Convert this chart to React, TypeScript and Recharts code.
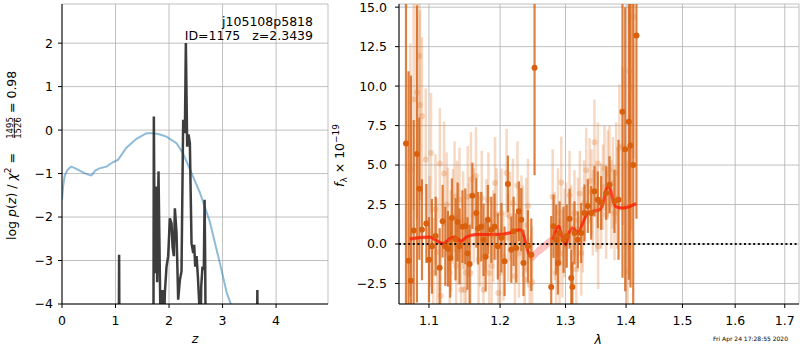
import React from 'react';
import {
  LineChart, Line, XAxis, YAxis, CartesianGrid, ComposedChart, Scatter, ErrorBar, Area, ReferenceLine,
} from 'recharts';

const FONT = 'DejaVu Sans, sans-serif';

// ---------- Left panel: log p(z) ----------
const zTicks = [0, 1, 2, 3, 4];
const logpTicks = [-4, -3, -2, -1, 0, 1, 2];

const priorZ = [0, 0.02, 0.05, 0.1, 0.17, 0.25, 0.33, 0.42, 0.5, 0.55, 0.62, 0.7, 0.83, 0.95, 1.05, 1.2, 1.39, 1.58, 1.7, 1.83, 1.95, 2.14, 2.26, 2.42, 2.58, 2.76, 2.95, 3.08, 3.14, 3.3];
const priorLogP = [-1.6, -1.3, -1.05, -0.92, -0.84, -0.88, -0.93, -0.99, -1.03, -1.04, -0.93, -0.88, -0.84, -0.74, -0.68, -0.41, -0.2, -0.07, -0.07, -0.1, -0.15, -0.3, -0.53, -0.99, -1.45, -2.1, -3.06, -3.75, -3.95, -4.5];

const pzZ = [0, 1.05, 1.06, 1.067, 1.074, 1.085, 1.7, 1.708, 1.716, 1.725, 1.747, 1.765, 1.778, 1.803, 1.828, 1.847, 1.878, 1.903, 1.921, 1.953, 1.984, 2.015, 2.046, 2.065, 2.09, 2.109, 2.14, 2.171, 2.202, 2.233, 2.264, 2.296, 2.314, 2.339, 2.364, 2.389, 2.42, 2.452, 2.47, 2.489, 2.514, 2.539, 2.564, 2.576, 2.59, 2.601, 2.625, 2.65, 2.664, 2.675, 2.69, 3.63, 3.642, 3.65, 3.658, 3.67, 4.97];
const pzLogP = [-9, -9, -5, -2.87, -5, -9, -9, -5, 0.31, -1.5, -3.29, -1.3, -3.5, -0.95, -3.3, -5, -3.68, -5, -3.75, -3.14, -2.9, -2.03, -2.14, -2.68, -2.9, -1.8, -2.37, -3.9, -3.45, -3.25, 0.24, -0.07, 2.0, -0.38, -0.1, -0.3, -2.6, -2.83, -2.64, -3.14, -2.9, -3.37, -3.98, -4.5, -4.6, -3.6, -3.14, -3.22, -1.6, -3, -6, -9, -5, -3.68, -5, -9, -9];

// ---------- Right panel: spectrum ----------
const lamTicks = [1.1, 1.2, 1.3, 1.4, 1.5, 1.6, 1.7];
const fluxTicks = [-2.5, 0, 2.5, 5, 7.5, 10, 12.5, 15];
const fluxDomain = [-3.8, 15.2];

const lightLam = [1.0752, 1.0796, 1.0839, 1.0871, 1.088, 1.0906, 1.0957, 1.101, 1.1028, 1.1058, 1.1088, 1.111, 1.1147, 1.116, 1.1205, 1.124, 1.1259, 1.1282, 1.13, 1.1327, 1.135, 1.1372, 1.1386, 1.1405, 1.1419, 1.1441, 1.147, 1.1488, 1.1511, 1.1534, 1.155, 1.1572, 1.158, 1.162, 1.165, 1.1688, 1.171, 1.1734, 1.1758, 1.18, 1.183, 1.184, 1.1877, 1.19, 1.1926, 1.195, 1.1974, 1.1999, 1.2022, 1.205, 1.2096, 1.212, 1.2146, 1.219, 1.222, 1.2258, 1.228, 1.2318, 1.234, 1.2368, 1.239, 1.2418, 1.2443, 1.248, 1.2798, 1.283, 1.2853, 1.288, 1.2906, 1.2933, 1.295, 1.2986, 1.301, 1.3065, 1.309, 1.3118, 1.3144, 1.3172, 1.32, 1.323, 1.3252, 1.3279, 1.33, 1.3334, 1.3389, 1.342, 1.3443, 1.3469, 1.35, 1.3524, 1.353, 1.358, 1.361, 1.3635, 1.3663, 1.369, 1.3719, 1.375, 1.3775, 1.3803, 1.3831, 1.385, 1.3886, 1.3943, 1.4002, 1.4027, 1.4057, 1.4085, 1.413];
const lightFlux = [4.7, 9.15, 9.6, 11.9, 8.8, 8.1, 5.35, 0.8, 5.77, -1.84, 2.2, -0.5, 5.1, -3.3, 4.46, 2.5, 1.54, -1.84, 0.2, 1.75, 3.0, -1.4, 2.07, 0.6, 2.8, -2.9, 1.5, -2.9, -1.8, 3.0, 0.9, -1.84, 4.08, 1.8, 4.3, -1.0, 0.3, 2.9, -2.9, 1.2, 2.8, -1.84, -1.4, 0.5, 3.87, 1.9, -3.1, -1.84, 1.97, -0.8, 4.5, 0.4, 1.75, 2.6, -2.05, 3.7, -0.6, 1.54, 0.8, -2.26, 1.2, 2.4, -2.58, -2.4, 3.0, 0.5, -1.84, 2.0, -1.2, 3.9, -0.6, 0.7, 1.2, 3.1, 1.0, -0.15, 1.97, -1.6, 1.5, 3.2, -0.57, 0.9, 2.6, 4.67, 4.0, 3.3, 1.97, 6.45, 2.2, 5.1, -0.15, 2.4, 3.6, 4.8, 1.86, 4.4, 4.7, 2.5, 3.87, 1.97, 4.5, 2.9, 6.1, 6.2, -0.15, -1.73, 10.95, 9.9, 14.4];
const lightErr = [8, 7, 8, 6, 6, 5, 4.5, 3.5, 3.8, 3.5, 3.5, 3.4, 3.5, 3.5, 3.3, 3.3, 3.3, 3.3, 3.2, 3.0, 3.5, 3.2, 3.2, 3.2, 3.3, 3.2, 3.1, 3.2, 3.2, 3.2, 3.0, 3.0, 3.0, 3.0, 3.1, 3.0, 3.0, 3.0, 3.0, 2.9, 3.0, 3.0, 2.9, 2.9, 2.9, 2.9, 3.0, 2.8, 2.8, 2.8, 2.8, 2.8, 2.8, 2.8, 2.7, 2.8, 2.8, 2.8, 2.9, 2.8, 3.0, 3.0, 3.0, 3.5, 3.0, 2.8, 3.0, 2.8, 2.8, 2.9, 2.8, 2.8, 2.7, 2.8, 2.7, 2.7, 2.7, 2.7, 2.7, 2.7, 2.7, 2.7, 2.7, 2.7, 2.7, 2.7, 2.7, 2.7, 2.7, 2.6, 2.7, 2.7, 2.7, 2.7, 2.8, 2.8, 2.8, 2.8, 2.9, 3.0, 3.2, 3.2, 4.0, 5, 6, 7, 8, 9, 9];

const darkLam = [1.0695, 1.0729, 1.076, 1.0796, 1.0839, 1.0871, 1.0906, 1.0965, 1.1, 1.104, 1.109, 1.1145, 1.1185, 1.1222, 1.1258, 1.129, 1.1313, 1.1364, 1.1392, 1.142, 1.146, 1.15, 1.153, 1.1561, 1.16, 1.1656, 1.168, 1.1727, 1.176, 1.179, 1.1822, 1.1872, 1.1919, 1.1967, 1.202, 1.2066, 1.2115, 1.2166, 1.22, 1.224, 1.2279, 1.2315, 1.2349, 1.2415, 1.2467, 1.2517, 1.2775, 1.2811, 1.2853, 1.288, 1.2906, 1.2969, 1.302, 1.3065, 1.3092, 1.311, 1.3144, 1.3197, 1.3252, 1.3306, 1.336, 1.3415, 1.3469, 1.3524, 1.358, 1.3663, 1.3719, 1.3803, 1.3871, 1.3939, 1.3985, 1.4047, 1.4076, 1.4123, 1.4179];
const darkFlux = [6.36, -1.06, -2.33, 0.85, 5.7, 3.5, 0.9, 1.3, -1.0, -0.15, 0.5, -1.5, 1.44, -0.15, -0.3, -0.9, 1.65, 0.3, 1.4, -0.15, 1.1, 1.12, -0.6, -1.27, 3.05, 1.97, 1.0, 1.1, 0.27, -0.8, 1.54, 0.9, 1.1, -0.15, 0.4, -1.1, 3.8, -0.36, 0.8, -0.25, 2.07, 1.54, -1.2, -0.15, -0.68, 11.16, -2.73, 1.12, 0.27, -1.2, 0.7, 0.27, 0.5, 1.6, -2.16, -2.73, 0.7, 0.27, 0.7, 1.97, 2.4, 1.97, 3.34, 2.8, 2.6, 3.23, 3.76, 2.7, 2.8, 8.37, 6.0, 7.74, 6.24, 5.0, 13.2];
const darkErr = [16, 12, 13, 7, 9.4, 4.5, 3.2, 2.5, 2.7, 3.0, 2.5, 2.5, 2.3, 2.5, 2.4, 2.5, 2.5, 2.6, 2.5, 2.4, 2.3, 2.4, 2.3, 2.5, 2.1, 2.2, 2.3, 2.2, 2.3, 2.2, 2.2, 2.1, 2.1, 2.1, 2.2, 2.2, 1.8, 2.1, 2.2, 2.2, 1.9, 2.0, 2.1, 2.3, 2.3, 6.8, 4.5, 2.0, 2.2, 2.0, 2.0, 2.1, 2.0, 1.9, 1.8, 1.6, 2.0, 1.8, 1.9, 1.8, 1.7, 1.7, 1.6, 1.8, 1.7, 1.7, 1.8, 2.0, 3.8, 10.5, 9, 10, 9, 12, 11.6];

const modelLam = [1.0743, 1.1009, 1.11, 1.119, 1.1282, 1.1351, 1.1444, 1.1514, 1.1656, 1.1944, 1.214, 1.2289, 1.233, 1.239, 1.2441, 1.2476, 1.256, 1.265, 1.274, 1.28, 1.2894, 1.2958, 1.3011, 1.3053, 1.3117, 1.3197, 1.3278, 1.336, 1.3442, 1.3553, 1.3607, 1.3663, 1.3719, 1.3774, 1.3832, 1.3943, 1.4174];
const modelFlux = [0.32, 0.44, 0.23, 0.02, 0.32, 0.44, 0.17, 0.44, 0.6, 0.6, 0.7, 0.9, 0.8, -0.04, -0.74, -0.8, -0.5, -0.2, 0.1, 0.27, 1.12, 0.27, -0.04, 0.7, 1.0, 0.7, 1.33, 1.97, 2.07, 2.18, 2.5, 3.45, 3.66, 2.8, 2.35, 2.28, 2.56];
const modelErr = [0.12, 0.12, 0.12, 0.12, 0.12, 0.12, 0.12, 0.12, 0.12, 0.12, 0.12, 0.12, 0.15, 0.2, 0.25, 0.3, 0.3, 0.3, 0.3, 0.2, 0.15, 0.2, 0.3, 0.2, 0.15, 0.15, 0.15, 0.12, 0.12, 0.12, 0.12, 0.12, 0.12, 0.12, 0.12, 0.12, 0.12];
const modelDrawn = [1, 1, 1, 1, 1, 1, 1, 1, 1, 1, 1, 1, 1, 1, 1, 1, 0, 0, 0, 1, 1, 1, 1, 1, 1, 1, 1, 1, 1, 1, 1, 1, 1, 1, 1, 1, 1];

const timestamp = 'Fri Apr 24 17:28:55 2020';
const objName = 'j105108p5818';
const objInfo = 'ID=1175   z=2.3439';

// ---------- Tables built from the arrays ----------
// error bars are cut at the plot frame (the picture clips them there)
const clipErr = (f: number, e: number) => [
  Math.max(0, Math.min(e, f - fluxDomain[0])),
  Math.max(0, Math.min(e, fluxDomain[1] - f)),
];
const priorData = priorZ.map((z, i) => ({ z, v: priorLogP[i] }));
const pzData = pzZ.map((z, i) => ({ z, v: pzLogP[i] }));
const lightData = lightLam.map((lam, i) => ({ lam, f: lightFlux[i], e: clipErr(lightFlux[i], lightErr[i]) }));
const darkData = darkLam.map((lam, i) => ({ lam, f: darkFlux[i], e: clipErr(darkFlux[i], darkErr[i]) }));
const modelData = modelLam.map((lam, i) => ({
  lam,
  f: modelDrawn[i] ? modelFlux[i] : null,
  band: [modelFlux[i] - modelErr[i], modelFlux[i] + modelErr[i]],
}));

const minus = (s: string) => s.replace('-', '\u2212');
const tickStyle = { fill: '#000', fontSize: 12.5, fontFamily: FONT };

const LeftLabels = () => (
  <g fontFamily={FONT} fill="#000">
    <text transform="translate(15.5,240) rotate(-90)" fontSize={12.5}>
      log <tspan fontStyle="italic">p</tspan>(<tspan fontStyle="italic">z</tspan>) / <tspan fontStyle="italic">χ</tspan>
      <tspan fontSize={9} dy={-5}>2</tspan>
      <tspan dy={5}> =</tspan>
    </text>
    <text transform="translate(12.5,240) rotate(-90)" x={112} textAnchor="middle" fontSize={8.5}>1495</text>
    <line transform="translate(14.3,240) rotate(-90)" x1={102} x2={122} y1={0} y2={0} stroke="#000" strokeWidth={0.8} />
    <text transform="translate(21,240) rotate(-90)" x={112} textAnchor="middle" fontSize={8.5}>1526</text>
    <text transform="translate(15.5,240) rotate(-90)" x={127} fontSize={12.5}>= 0.98</text>
    <text x={195} y={343} textAnchor="middle" fontSize={12.5} fontStyle="italic">z</text>
    <text x={313} y={26} textAnchor="end" fontSize={12.5}>{objName}</text>
    <text x={313} y={40} textAnchor="end" fontSize={12.5} xmlSpace="preserve" style={{ whiteSpace: 'pre' }}>{objInfo}</text>
  </g>
);

const RightLabels = () => (
  <g fontFamily={FONT} fill="#000">
    <text transform="translate(14,187) rotate(-90)" fontSize={12.5}>
      <tspan fontStyle="italic">f</tspan>
      <tspan fontSize={9} dy={3}>λ</tspan>
      <tspan dy={-3}> × 10</tspan>
      <tspan fontSize={9} dy={-5}>−19</tspan>
    </text>
    <text x={268.3} y={344} textAnchor="middle" fontSize={12.5} fontStyle="italic">λ</text>
    <text x={458} y={341} textAnchor="end" fontSize={6}>{timestamp}</text>
  </g>
);

const lightDot = (p: any) => <circle cx={p.cx} cy={p.cy} r={3} fill="rgba(226,125,55,0.3)" />;
const darkDot = (p: any) => <circle cx={p.cx} cy={p.cy} r={3} fill="#d9600c" />;

export default function App() {
  return (
    <div style={{ position: 'absolute', left: 0, top: 0, width: 800, height: 350, background: '#fff' }}>
      <LineChart width={340} height={350} margin={{ top: 4, right: 12, bottom: 16, left: 0 }}
        style={{ position: 'absolute', left: 0, top: 0 }}>
        <CartesianGrid stroke="#b0b0b0" strokeWidth={0.8} />
        <XAxis type="number" dataKey="z" domain={[0, 4.97]} ticks={zTicks} allowDataOverflow height={30}
          tickSize={4} tickMargin={8} stroke="#000" tick={tickStyle} tickLine={{ stroke: '#000' }}
          axisLine={{ stroke: '#000' }} label={<LeftLabels />} />
        <XAxis xAxisId="top" orientation="top" type="number" domain={[0, 1]} height={0} tick={false}
          tickLine={false} axisLine={{ stroke: '#000' }} />
        <YAxis type="number" domain={[-4, 2.9]} ticks={logpTicks} allowDataOverflow width={62}
          tickSize={4} tickMargin={5} tick={tickStyle} tickLine={{ stroke: '#000' }}
          axisLine={{ stroke: '#000' }} tickFormatter={(v: number) => minus(String(v))} />
        <YAxis yAxisId="right" orientation="right" type="number" domain={[0, 1]} width={0} tick={false}
          tickLine={false} axisLine={{ stroke: '#000' }} />
        <Line data={priorData} dataKey="v" stroke="#1f77b4" strokeOpacity={0.5} strokeWidth={2}
          dot={false} isAnimationActive={false} />
        <Line data={pzData} dataKey="v" stroke="#333" strokeOpacity={0.95} strokeWidth={2.5}
          dot={false} isAnimationActive={false} />
      </LineChart>

      <ComposedChart width={470} height={350} margin={{ top: 4, right: 1, bottom: 16, left: 0 }}
        style={{ position: 'absolute', left: 330, top: 0 }}>
        <CartesianGrid stroke="#b0b0b0" strokeWidth={0.8} />
        <XAxis type="number" dataKey="lam" scale="log" domain={[1.0604, 1.7299]} ticks={lamTicks}
          allowDataOverflow height={30} tickSize={4} tickMargin={8} tick={tickStyle}
          tickLine={{ stroke: '#000' }} axisLine={{ stroke: '#000' }}
          tickFormatter={(v: number) => v.toFixed(1)} label={<RightLabels />} />
        <XAxis xAxisId="top" orientation="top" type="number" domain={[0, 1]} height={0} tick={false}
          tickLine={false} axisLine={{ stroke: '#000' }} />
        <YAxis type="number" domain={fluxDomain} ticks={fluxTicks} allowDataOverflow width={69}
          tickSize={4} tickMargin={8} tick={tickStyle} tickLine={{ stroke: '#000' }}
          axisLine={{ stroke: '#000' }} tickFormatter={(v: number) => minus(v.toFixed(1))} />
        <YAxis yAxisId="right" orientation="right" type="number" domain={[0, 1]} width={0} tick={false}
          tickLine={false} axisLine={{ stroke: '#000' }} />
        <Scatter data={lightData} dataKey="f" shape={lightDot} isAnimationActive={false}>
          <ErrorBar dataKey="e" direction="y" width={0} stroke="rgba(226,125,55,0.3)" strokeWidth={2.5} />
        </Scatter>
        <Scatter data={darkData} dataKey="f" shape={darkDot} isAnimationActive={false}>
          <ErrorBar dataKey="e" direction="y" width={0} stroke="rgba(214,96,16,0.8)" strokeWidth={2.2} />
        </Scatter>
        <Area data={modelData} dataKey="band" type="monotone" stroke="none" fill="#ff3030"
          fillOpacity={0.3} isAnimationActive={false} />
        <Line data={modelData} dataKey="f" type="monotone" stroke="#ff1a00" strokeOpacity={0.75}
          strokeWidth={3} dot={false} connectNulls={false} isAnimationActive={false} />
        <ReferenceLine y={0} stroke="#111" strokeWidth={2} strokeDasharray="2 2.6" />
      </ComposedChart>
    </div>
  );
}
